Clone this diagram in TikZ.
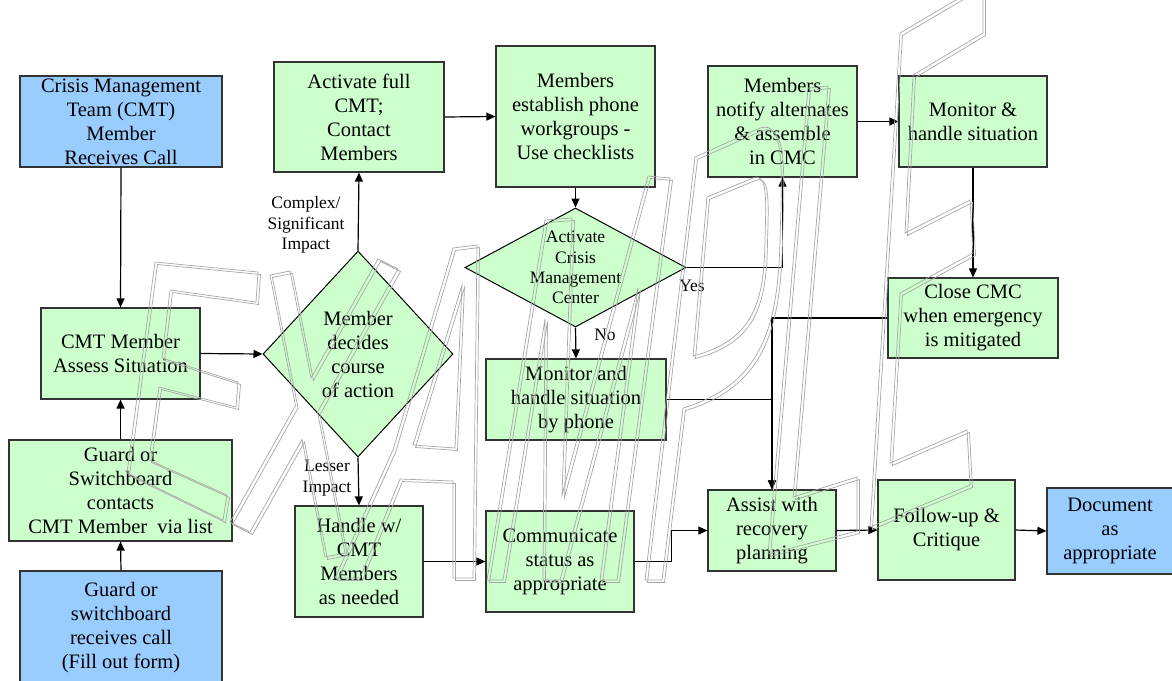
\documentclass[tikz,border=0pt]{standalone}
\usepackage{fontspec}
\setmainfont{Liberation Serif}
\usetikzlibrary{arrows.meta,shapes.geometric}
\definecolor{boxgreen}{HTML}{CCFFCC}
\definecolor{boxblue}{HTML}{99CCFF}
\definecolor{edge}{HTML}{333333}
\tikzset{
  box/.style={draw=edge, line width=1.2pt, fill=boxgreen, inner sep=1pt, align=center, font=\fontsize{20.5}{24}\selectfont},
  bluebox/.style={box, fill=boxblue},
  decision/.style={diamond, draw=black, line width=1pt, fill=boxgreen, inner sep=0pt},
  dtext/.style={align=center, inner sep=0pt, font=\fontsize{20.5}{24}\selectfont},
  lbl/.style={align=center, inner sep=0pt, font=\fontsize{17.5}{20.3}\selectfont},
  link/.style={line width=1.2pt, -{Triangle[length=9pt,width=8pt]}},
  wm/.style={draw=black!35, line width=0.7pt}
}
\newcommand{\wmletter}[1]{\draw[wm] #1; \draw[wm, shift={(2.5,2.5)}] #1;}

\begin{document}
\begin{tikzpicture}[x=1pt,y=-1pt]
\useasboundingbox (0,0) rectangle (1172,680);
\node[bluebox, minimum width=202pt, minimum height=91pt] (crisis) at (121,121.5) {Crisis Management\\Team (CMT)\\Member\\Receives Call};
\node[box, minimum width=170pt, minimum height=110pt] (activate) at (359,117) {Activate full\\CMT;\\Contact\\Members};
\node[box, minimum width=159pt, minimum height=141pt] (establish) at (575.5,116.5) {Members\\establish phone\\workgroups -\\Use checklists};
\node[box, minimum width=149pt, minimum height=111pt] (notify) at (782.5,121.5) {Members\\notify alternates\\\& assemble\\in CMC};
\node[box, minimum width=148pt, minimum height=91pt] (monitor) at (973,121.5) {Monitor \&\\handle situation};
\node[box, minimum width=170pt, minimum height=80pt] (close) at (973,318) {Close CMC\\when emergency\\is mitigated};
\node[box, minimum width=159pt, minimum height=91pt] (assess) at (120.5,353.5) {CMT Member\\Assess Situation};
\node[decision, minimum width=190pt, minimum height=206pt] (decide) at (358,354) {};
\node[dtext] (decidetext) at (decide) {Member\\decides\\course\\of action};
\node[decision, minimum width=221pt, minimum height=119pt] (acmc) at (575.5,267.5) {};
\node[lbl] (acmctext) at (acmc) {Activate\\Crisis\\Management\\Center};
\node[box, minimum width=180pt, minimum height=81pt] (phone) at (576,399.5) {Monitor and\\handle situation\\by phone};
\node[box, minimum width=223pt, minimum height=101pt] (contacts) at (120.5,490.5) {Guard or\\Switchboard\\contacts\\CMT Member\ \ via list};
\node[bluebox, minimum width=202pt, minimum height=114pt] (receive) at (121,628) {Guard or\\switchboard\\receives call\\(Fill out form)};
\node[box, minimum width=128pt, minimum height=111pt] (handle) at (359,561.5) {Handle w/\\CMT\\Members\\as needed};
\node[box, minimum width=148pt, minimum height=101pt] (comm) at (560,561.5) {Communicate\\status as\\appropriate};
\node[box, minimum width=128pt, minimum height=81pt] (assist) at (772,530.5) {Assist with\\recovery\\planning};
\node[box, minimum width=137pt, minimum height=100pt] (follow) at (946.5,530) {Follow-up \&\\Critique};
\node[bluebox, minimum width=126pt, minimum height=86pt] (document) at (1110,531) {Document\\as\\appropriate};
\node[lbl] (complex) at (306,225) {Complex/\\Significant\\Impact};
\node[lbl] (lesser) at (327,478) {Lesser\\Impact};
\node[lbl] (yes) at (692,286) {Yes};
\node[lbl] (no) at (605,335) {No};
\draw[link] (crisis.south) -- (assess.north);
\draw[link] (receive.north) -- (contacts.south);
\draw[link] (contacts.north) -- (assess.south);
\draw[link] (assess.east) -- (decide.west);
\draw[link] (decide.north) -- (activate.south);
\draw[link] (decide.south) -- (handle.north);
\draw[link] (activate.east) -- (establish.west);
\draw[link] (establish.south) -- (acmc.north);
\draw[link] (acmc.east) -| (notify.south);
\draw[link] (acmc.south) -- (phone.north);
\draw[link] (notify.east) -- (monitor.west);
\draw[link] (monitor.south) -- (close.north);
\draw[link] (close.west) -| (assist.north);
\draw[link] (phone.east) -| (assist.north);
\draw[link] (handle.east) -- (comm.west);
\draw[link] (comm.east) -- ++(37,0) |- (assist.west);
\draw[link] (assist.east) -- (follow.west);
\draw[link] (follow.east) -- (document.west);
\wmletter{(155,262) -- (258,272) -- (256,302) -- (170,290) -- (162,358) -- (238,382) -- (236,407) -- (159,387) -- (149,460) -- (227,495) -- (223,520) -- (127,473) -- cycle}
\wmletter{(270,275) -- (290,271) -- (311,378) -- (378,259) -- (398,269) -- (317.5,412) -- (345,553) -- (325,557) -- (302,439.5) -- (250,532) -- (230,522) -- (295.5,405.6) -- cycle}
\wmletter{(335,578) -- (393,450) -- (453,248) -- (477,245) -- (473,578) -- (453,578) -- (453,481) -- (400,479) -- (360,578) -- cycle (462,285) -- (413,445) -- (455,448) -- cycle}
\wmletter{(487,580) -- (545,220) -- (572,218) -- (562,495) -- (648,176) -- (670,178) -- (617,580) -- (600,580) -- (638,288) -- (560,580) -- (543,580) -- (545,319) -- (503,580) -- cycle}
\wmletter{(645,580) -- (695,157) -- (760,128) .. controls (785,120) and (782,170) .. (780,240) .. controls (778,330) and (760,385) .. (683,408) -- (662,580) -- cycle (707,197) -- (753,178) .. controls (768,172) and (766,200) .. (765,240) .. controls (764,300) and (755,340) .. (693,356) -- cycle}
\wmletter{(768,554) -- (808,88) -- (828,86) -- (793,497) -- (857,477) -- (857,531) -- cycle}
\wmletter{(870,527) -- (900,33) -- (983,-16) -- (983,33) -- (913,75) -- (905,233) -- (970,200) -- (973,253) -- (900,293) -- (890,463) -- (967,430) -- (970,485) -- cycle}
\end{tikzpicture}
\end{document}
